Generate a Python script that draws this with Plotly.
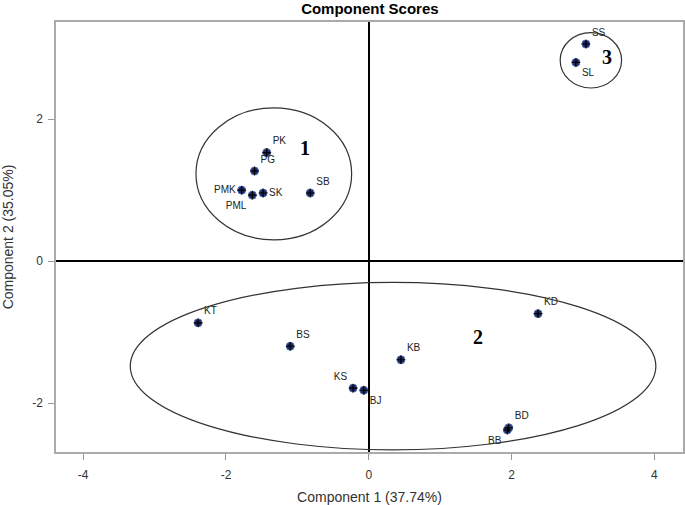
import plotly.graph_objects as go

# Component scores
names = ["PK", "PG", "PMK", "PML", "SK", "SB", "SS", "SL",
         "KT", "BS", "KB", "KS", "BJ", "KD", "BD", "BB"]
comp1 = [-1.43, -1.60, -1.78, -1.63, -1.48, -0.82, 3.04, 2.90,
         -2.39, -1.10, 0.45, -0.22, -0.07, 2.37, 1.96, 1.94]
comp2 = [1.53, 1.27, 1.00, 0.93, 0.96, 0.96, 3.06, 2.80,
         -0.87, -1.20, -1.39, -1.79, -1.82, -0.74, -2.35, -2.38]
label_pos = ["top right", "top right", "middle left", "bottom left", "middle right",
             "top right", "top right", "bottom right",
             "top right", "top right", "top right", "top left", "bottom right",
             "top right", "top right", "bottom left"]

# Cluster ellipses: centre x, centre y, radius x, radius y, label
cluster_names = ["1", "2", "3"]
cluster_cx = [-1.33, 0.34, 3.11]
cluster_cy = [1.23, -1.48, 2.83]
cluster_rx = [1.09, 3.68, 0.43]
cluster_ry = [0.93, 1.18, 0.39]
cluster_lx = [-0.90, 1.53, 3.33]
cluster_ly = [1.59, -1.07, 2.88]

x_ticks = [-4, -2, 0, 2, 4]
x_tick_labels = ["-4", "-2", "0", "2", "4"]
y_ticks = [-2, 0, 2]
y_tick_labels = ["-2", "0", "2"]

fig = go.Figure()
fig.add_trace(go.Scatter(
    x=comp1, y=comp2, mode="markers+text", text=names, textposition=label_pos,
    textfont=dict(family="Liberation Sans, Arial", size=10, color="#222222"),
    marker=dict(symbol="circle", size=8, color="#1c2a66",
                line=dict(color="#5a6fb0", width=1)),
    showlegend=False, hoverinfo="text"))
fig.add_trace(go.Scatter(
    x=comp1, y=comp2, mode="markers",
    marker=dict(symbol="cross-thin-open", size=6, color="#000000",
                line=dict(color="#000000", width=1.2)),
    showlegend=False, hoverinfo="skip"))

shapes = []
for cx, cy, rx, ry in zip(cluster_cx, cluster_cy, cluster_rx, cluster_ry):
    shapes.append(dict(type="circle", xref="x", yref="y",
                       x0=cx - rx, x1=cx + rx, y0=cy - ry, y1=cy + ry,
                       line=dict(color="#333333", width=1.2)))

annotations = []
for n, lx, ly in zip(cluster_names, cluster_lx, cluster_ly):
    annotations.append(dict(x=lx, y=ly, xref="x", yref="y", text="<b>" + n + "</b>",
                            showarrow=False,
                            font=dict(family="Liberation Serif, Times New Roman", size=20, color="black")))

fig.update_layout(
    width=685, height=505,
    margin=dict(l=56, r=2, t=22, b=53, autoexpand=False),
    paper_bgcolor="white", plot_bgcolor="white",
    title=dict(text="<b>Component Scores</b>", x=0.54, xanchor="center",
               yref="container", y=0.982, yanchor="middle", pad=dict(t=0, b=0),
               font=dict(family="Liberation Sans, Arial", size=15, color="black")),
    shapes=shapes, annotations=annotations,
    font=dict(family="Liberation Sans, Arial", size=12, color="#333333"),
)
fig.update_xaxes(range=[-4.38, 4.40], tickvals=x_ticks, ticktext=x_tick_labels,
                 ticks="outside", ticklen=6, ticklabelstandoff=5, automargin=False,
                 tickcolor="#999999", showgrid=False, zeroline=True, zerolinecolor="black",
                 zerolinewidth=1.5, showline=True, linecolor="#aaaaaa", linewidth=1.5, mirror=True,
                 title=dict(text="Component 1 (37.74%)", font=dict(size=14, color="#333333"), standoff=12))
fig.update_yaxes(range=[-2.69, 3.37], tickvals=y_ticks, ticktext=y_tick_labels,
                 ticks="outside", ticklen=6, ticklabelstandoff=3, automargin=False,
                 tickcolor="#999999", showgrid=False, zeroline=True, zerolinecolor="black",
                 zerolinewidth=1.5, showline=True, linecolor="#aaaaaa", linewidth=1.5, mirror=True,
                 title=dict(text="Component 2 (35.05%)", font=dict(size=14, color="#333333"), standoff=16))

fig.write_html("out.html", config={"displayModeBar": False},
               post_script="document.body.style.margin='0';document.body.style.overflow='hidden';")
